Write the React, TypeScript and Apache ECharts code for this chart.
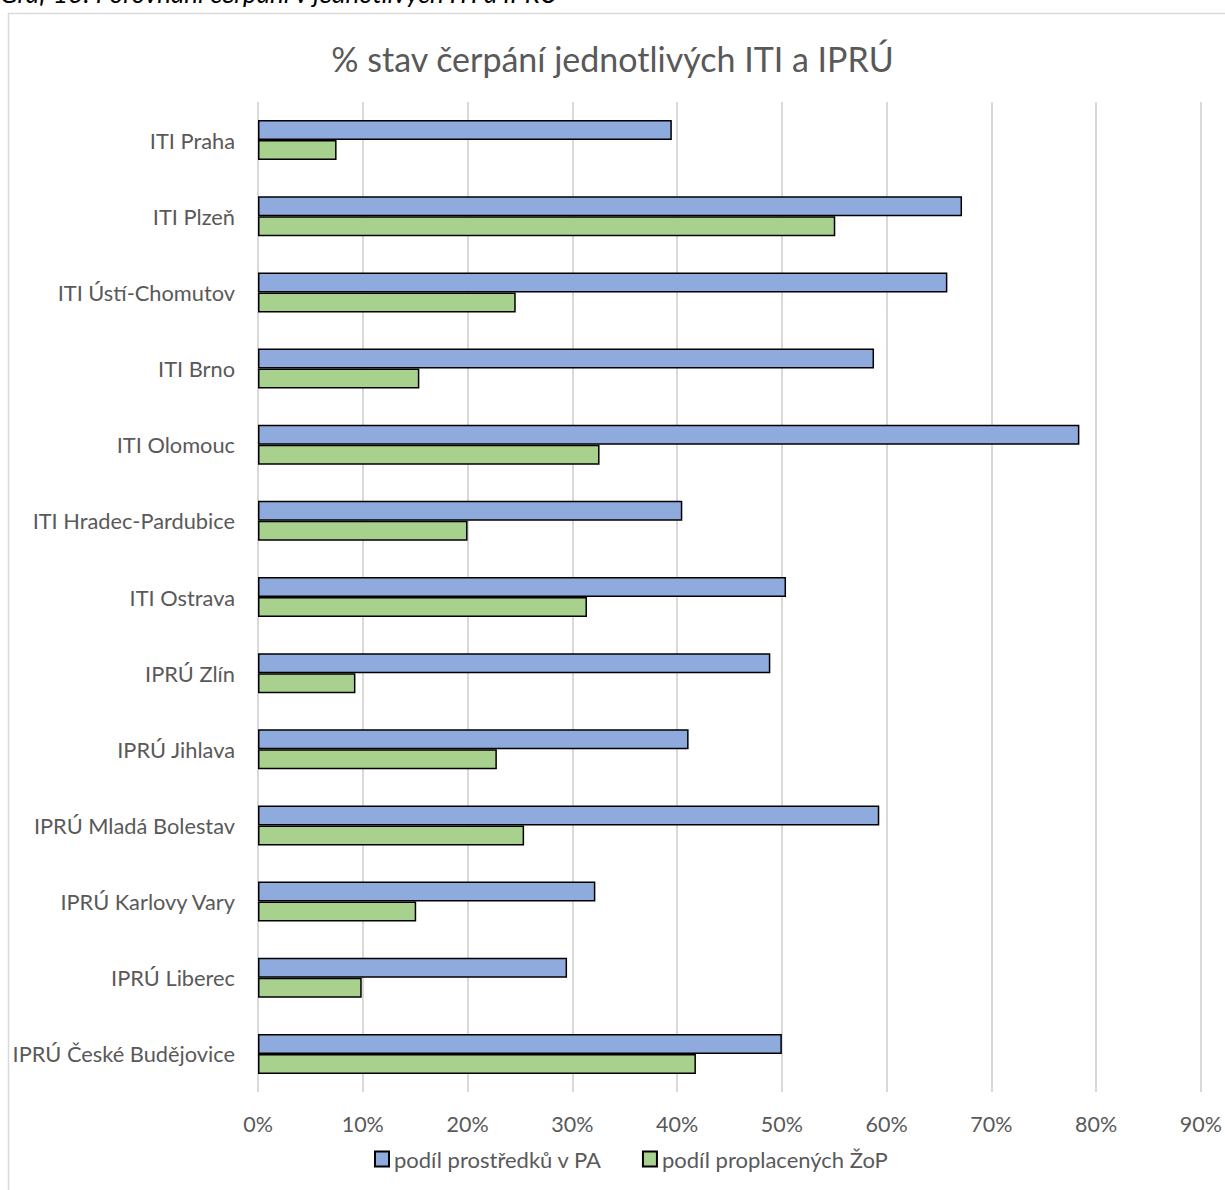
import React, { useEffect, useRef } from "react";
import * as echarts from "echarts";

const categories = [
  "ITI Praha",
  "ITI Plzeň",
  "ITI Ústí-Chomutov",
  "ITI Brno",
  "ITI Olomouc",
  "ITI Hradec-Pardubice",
  "ITI Ostrava",
  "IPRÚ Zlín",
  "IPRÚ Jihlava",
  "IPRÚ Mladá Bolestav",
  "IPRÚ Karlovy Vary",
  "IPRÚ Liberec",
  "IPRÚ České Budějovice",
];

const podilPA = [39.5, 67.2, 65.8, 58.8, 78.4, 40.5, 50.4, 48.9, 41.1, 59.3, 32.2, 29.5, 50.0];
const podilZoP = [7.5, 55.1, 24.6, 15.4, 32.6, 20.0, 31.4, 9.3, 22.8, 25.4, 15.1, 9.9, 41.8];

const seriesNames = ["podíl prostředků v PA", "podíl proplacených ŽoP"];
const titleText = "% stav čerpání jednotlivých ITI a IPRÚ";
const captionText = "Graf 13: Porovnání čerpání v jednotlivých ITI a IPRÚ";

const FONT = "Lato, 'Noto Sans', sans-serif";
const GREY = "#595959";

export default function App() {
  const ref = useRef<HTMLDivElement>(null);

  useEffect(() => {
    if (!ref.current) return;
    const chart = echarts.init(ref.current, null, { renderer: "svg" });
    chart.setOption({
      animation: false,
      backgroundColor: "#ffffff",
      textStyle: { fontFamily: FONT },
      title: {
        text: titleText,
        left: "center",
        top: 36,
        textStyle: { fontFamily: FONT, fontSize: 34, fontWeight: "normal", color: GREY },
      },
      graphic: [
        {
          type: "rect",
          shape: { x: 8.5, y: 13.5, width: 1240, height: 1200 },
          style: { fill: "none", stroke: "#d9d9d9", lineWidth: 1.5 },
          silent: true,
        },
        {
          type: "text",
          left: 0,
          top: -20,
          style: {
            text: captionText,
            font: "italic 26px Lato, 'Noto Sans', sans-serif",
            fill: "#000000",
          },
          silent: true,
        },
      ],
      legend: {
        bottom: 15,
        left: 369,
        itemWidth: 14,
        itemHeight: 15,
        itemGap: 40,
        icon: "rect",
        textStyle: { fontFamily: FONT, fontSize: 22, color: GREY },
        data: seriesNames,
      },
      grid: { left: 258, right: 24, top: 102, bottom: 98, containLabel: false },
      xAxis: {
        type: "value",
        min: 0,
        max: 90,
        interval: 10,
        axisLine: { show: false },
        axisTick: { show: false },
        axisLabel: {
          formatter: "{value}%",
          fontFamily: FONT,
          fontSize: 21.5,
          color: GREY,
          margin: 21,
        },
        splitLine: { show: true, lineStyle: { color: "#d9d9d9", width: 2 } },
      },
      yAxis: {
        type: "category",
        inverse: true,
        data: categories,
        axisLine: { show: false },
        axisTick: { show: false },
        axisLabel: { fontFamily: FONT, fontSize: 21.8, color: GREY, margin: 23 },
      },
      series: [
        {
          name: seriesNames[0],
          type: "bar",
          data: podilPA,
          barWidth: 20,
          barGap: "0%",
          itemStyle: { color: "#8faadc", borderColor: "#000000", borderWidth: 1.5 },
        },
        {
          name: seriesNames[1],
          type: "bar",
          data: podilZoP,
          barWidth: 20,
          barGap: "0%",
          itemStyle: { color: "#a9d18e", borderColor: "#000000", borderWidth: 1.5 },
        },
      ],
    });
    return () => chart.dispose();
  }, []);

  return (
    <div
      ref={ref}
      style={{ position: "absolute", left: 0, top: 0, width: 1225, height: 1190 }}
    />
  );
}
